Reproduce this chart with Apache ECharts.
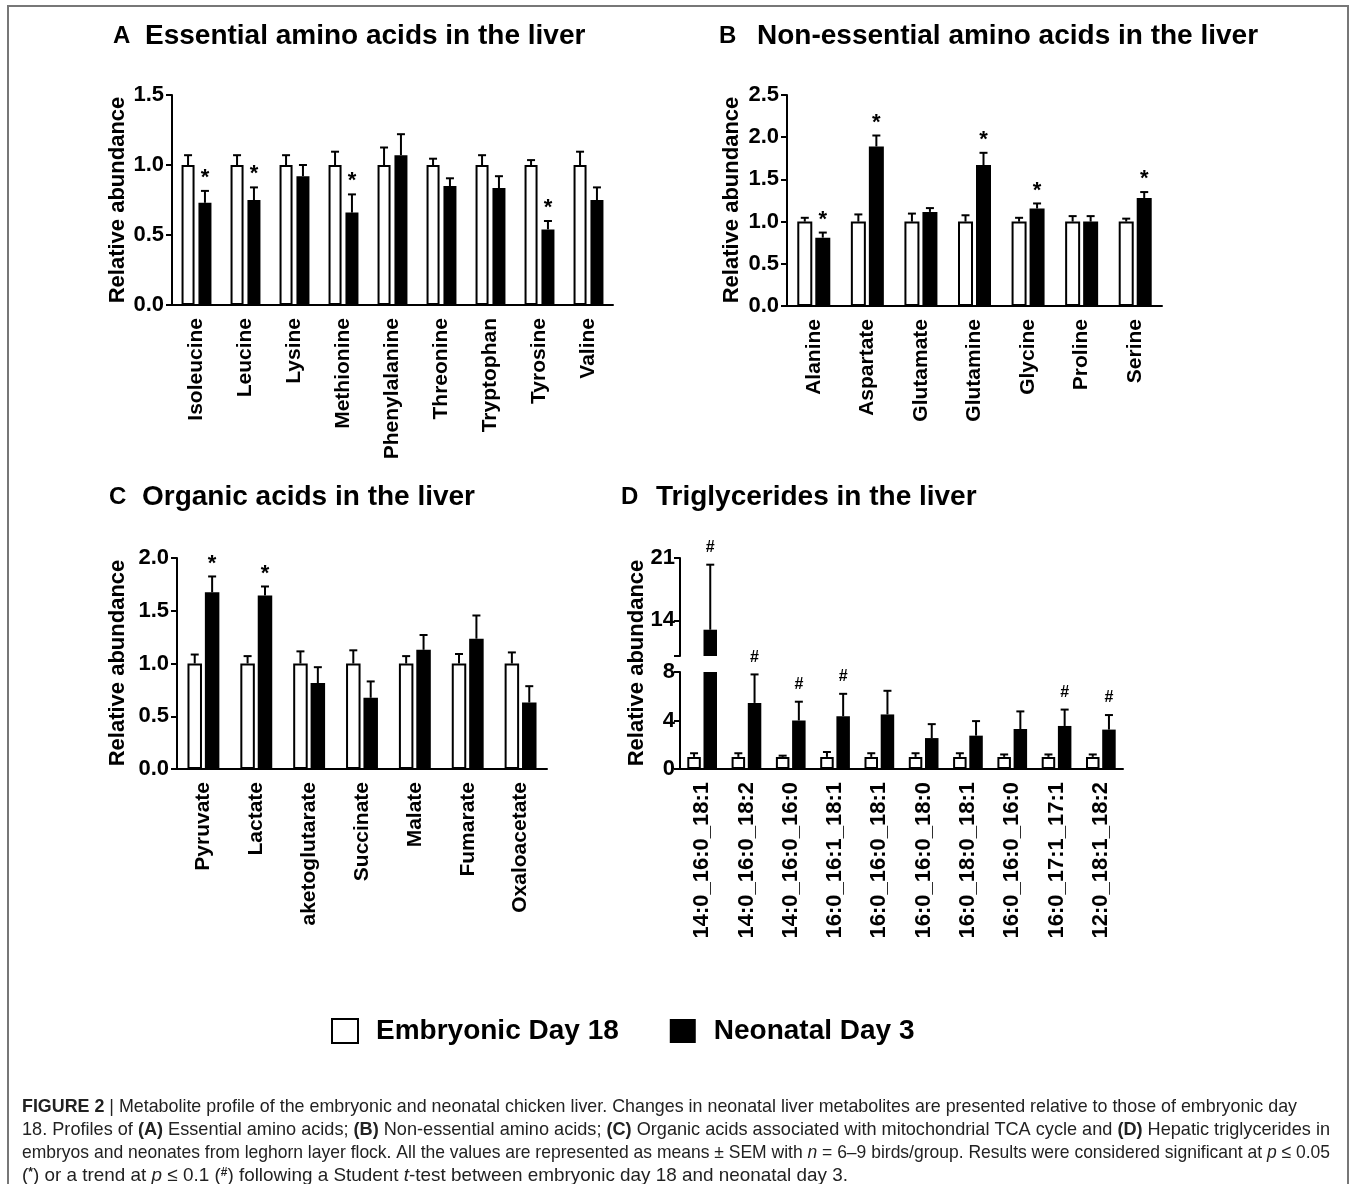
<!DOCTYPE html>
<html>
<head>
<meta charset="utf-8">
<script src="https://cdn.jsdelivr.net/npm/echarts@6/dist/echarts.min.js"></script>
<style>
  html, body { margin: 0; padding: 0; background: #fff; }
  #chart { width: 1354px; height: 1184px; }
</style>
</head>
<body>
<div id="chart"></div>
<script>
const FONT = 'Liberation Sans, Arial, Helvetica, sans-serif';

// A - essential amino acids
const catsA = ['Isoleucine', 'Leucine', 'Lysine', 'Methionine', 'Phenylalanine', 'Threonine', 'Tryptophan', 'Tyrosine', 'Valine'];
const embA = [1, 1, 1, 1, 1, 1, 1, 1, 1];
const embErrA = [0.07, 0.07, 0.07, 0.095, 0.125, 0.045, 0.07, 0.035, 0.095];
const neoA = [0.73, 0.75, 0.92, 0.66, 1.07, 0.85, 0.835, 0.54, 0.75];
const neoErrA = [0.085, 0.09, 0.08, 0.13, 0.15, 0.055, 0.085, 0.06, 0.09];
const sigA = ['*', '*', '', '*', '', '', '', '*', ''];

// B - non-essential amino acids
const catsB = ['Alanine', 'Aspartate', 'Glutamate', 'Glutamine', 'Glycine', 'Proline', 'Serine'];
const embB = [1, 1, 1, 1, 1, 1, 1];
const embErrB = [0.045, 0.085, 0.095, 0.075, 0.045, 0.065, 0.035];
const neoB = [0.81, 1.89, 1.115, 1.67, 1.155, 1.0, 1.28];
const neoErrB = [0.06, 0.13, 0.045, 0.145, 0.06, 0.065, 0.07];
const sigB = ['*', '*', '', '*', '*', '', '*'];

// C - organic acids
const catsC = ['Pyruvate', 'Lactate', 'aketoglutarate', 'Succinate', 'Malate', 'Fumarate', 'Oxaloacetate'];
const embC = [1, 1, 1, 1, 1, 1, 1];
const embErrC = [0.085, 0.07, 0.115, 0.125, 0.07, 0.09, 0.105];
const neoC = [1.675, 1.645, 0.815, 0.675, 1.13, 1.235, 0.63];
const neoErrC = [0.15, 0.085, 0.15, 0.155, 0.14, 0.22, 0.155];
const sigC = ['*', '*', '', '', '', '', ''];

// D - triglycerides (broken axis)
const catsD = ['14:0_16:0_18:1', '14:0_16:0_18:2', '14:0_16:0_16:0', '16:0_16:1_18:1', '16:0_16:0_18:1', '16:0_16:0_18:0', '16:0_18:0_18:1', '16:0_16:0_16:0', '16:0_17:1_17:1', '12:0_18:1_18:2'];
const embD = [1, 1, 1, 1, 1, 1, 1, 1, 1, 1];
const embErrD = [0.3, 0.3, 0.1, 0.4, 0.3, 0.3, 0.3, 0.2, 0.2, 0.2];
const neoD = [12.95, 5.45, 4.0, 4.35, 4.5, 2.55, 2.75, 3.3, 3.55, 3.25];
const neoErrD = [7.3, 2.35, 1.55, 1.85, 1.95, 1.15, 1.2, 1.45, 1.35, 1.2];
const sigD = ['#', '#', '#', '#', '', '', '', '', '#', '#'];

const breakLow = 8;   // top of lower D axis
const breakHigh = 10; // bottom of upper D axis

const chart = echarts.init(document.getElementById('chart'));

function yAx(idx, min, max, interval, dec, margin, extra) {
    return Object.assign({
        gridIndex: idx, type: 'value', min: min, max: max, interval: interval,
        axisLine: { show: true, lineStyle: { color: '#000', width: 2 } },
        axisTick: { show: true, length: 6, lineStyle: { color: '#000', width: 2 } },
        splitLine: { show: false },
        axisLabel: { color: '#000', fontSize: 22, fontWeight: 'bold', fontFamily: FONT, margin: margin,
            formatter: v => v.toFixed(dec) }
    }, extra || {});
}

function xAx(idx, cats, fs, show) {
    return {
        gridIndex: idx, type: 'category', data: cats, show: show !== false,
        axisLine: { lineStyle: { color: '#000', width: 2 } },
        axisTick: { show: false },
        axisLabel: { rotate: 90, color: '#000', fontSize: fs, fontWeight: 'bold', fontFamily: FONT, margin: 13, interval: 0 }
    };
}

// error bar (upwards only) with an optional mark above it
function errSeries(idx, vals, errs, offset, marks, markFont, markGap, keep) {
    return {
        type: 'custom', xAxisIndex: idx, yAxisIndex: idx, silent: true, z: 5,
        data: vals.map((v, i) => keep(v) ? [i, v, errs[i]] : [i, '-', 0]),
        renderItem: function (params, api) {
            const v = api.value(1);
            if (isNaN(v)) return;
            const i = api.value(0), e = api.value(2);
            const base = api.coord([i, v]);
            const top = api.coord([i, v + e]);
            const x = base[0] + offset;
            const kids = [
                { type: 'line', shape: { x1: x, y1: base[1], x2: x, y2: top[1] }, style: { stroke: '#000', lineWidth: 2 } },
                { type: 'line', shape: { x1: x - 4, y1: top[1], x2: x + 4, y2: top[1] }, style: { stroke: '#000', lineWidth: 2 } }
            ];
            const m = marks ? marks[params.dataIndex] : '';
            if (m) {
                kids.push({ type: 'text', style: { text: m, x: x, y: top[1] - markGap, align: 'center', verticalAlign: 'bottom',
                    font: markFont, fill: '#000' } });
            }
            return { type: 'group', children: kids };
        }
    };
}

function barPair(idx, emb, neo, bw, gapRatio) {
    return [
        { name: 'Embryonic Day 18', type: 'bar', xAxisIndex: idx, yAxisIndex: idx, data: emb, barWidth: bw, barGap: (gapRatio * 100) + '%',
          itemStyle: { color: '#fff', borderColor: '#000', borderWidth: 2 } },
        { name: 'Neonatal Day 3', type: 'bar', xAxisIndex: idx, yAxisIndex: idx, data: neo, barWidth: bw, barGap: (gapRatio * 100) + '%',
          itemStyle: { color: '#000' } }
    ];
}

function panel(idx, emb, embErr, neo, neoErr, sig, bw, gapRatio, markFont, markGap) {
    const off = (bw + bw * gapRatio) / 2;
    return barPair(idx, emb, neo, bw, gapRatio).concat([
        errSeries(idx, emb, embErr, -off, null, '', 0, () => true),
        errSeries(idx, neo, neoErr, off, sig, markFont, markGap, () => true)
    ]);
}

const starFont = 'bold 22px ' + FONT;
const hashFont = 'bold 16px ' + FONT;

const bwD = 13.5, gapD = 0.2, offD = (bwD + bwD * gapD) / 2;
const overBreak = v => v > breakHigh;

const series = []
    .concat(panel(0, embA, embErrA, neoA, neoErrA, sigA, 13, 0.3, starFont, 2))
    .concat(panel(1, embB, embErrB, neoB, neoErrB, sigB, 15, 0.2, starFont, 2))
    .concat(panel(2, embC, embErrC, neoC, neoErrC, sigC, 14.5, 0.2, starFont, 2))
    // D upper part of the broken axis (only values above the break)
    .concat(barPair(3, embD.map(v => overBreak(v) ? v : '-'), neoD.map(v => overBreak(v) ? v : '-'), bwD, gapD))
    .concat([errSeries(3, neoD, neoErrD, offD, sigD, hashFont, 9, overBreak)])
    // D lower part
    .concat(barPair(4, embD, neoD, bwD, gapD))
    .concat([
        errSeries(4, embD, embErrD, -offD, null, '', 0, () => true),
        errSeries(4, neoD, neoErrD, offD, sigD, hashFont, 9, v => v <= breakLow)
    ]);

function title(letter, lx, text, tx, y) {
    return [
        { type: 'text', x: lx, y: y, style: { text: letter, font: 'bold 24px ' + FONT, fill: '#000', verticalAlign: 'middle' } },
        { type: 'text', x: tx, y: y, style: { text: text, font: 'bold 28px ' + FONT, fill: '#000', verticalAlign: 'middle' } }
    ];
}

function yName(x, y) {
    return { type: 'text', x: x, y: y, rotation: Math.PI / 2,
        style: { text: 'Relative abundance', font: 'bold 22px ' + FONT, fill: '#000', align: 'center', verticalAlign: 'middle' } };
}

// caption
const capSize = 19;
const capFonts = {
    '': capSize + 'px ' + FONT,
    b: 'bold ' + capSize + 'px ' + FONT,
    i: 'italic ' + capSize + 'px ' + FONT,
    s: 'bold 12px ' + FONT
};
const capRich = {
    b: { fontWeight: 'bold', fontSize: capSize, fontFamily: FONT, fill: '#222' },
    i: { fontStyle: 'italic', fontSize: capSize, fontFamily: FONT, fill: '#222' },
    s: { fontWeight: 'bold', fontSize: 12, fontFamily: FONT, fill: '#222', verticalAlign: 'top', padding: [0, 0, 7, 0] }
};
const captionLines = [
    '{b|FIGURE 2} | Metabolite profile of the embryonic and neonatal chicken liver. Changes in neonatal liver metabolites are presented relative to those of embryonic day',
    '18. Profiles of {b|(A)} Essential amino acids; {b|(B)} Non-essential amino acids; {b|(C)} Organic acids associated with mitochondrial TCA cycle and {b|(D)} Hepatic triglycerides in',
    'embryos and neonates from leghorn layer flock. All the values are represented as means ± SEM with {i|n} = 6–9 birds/group. Results were considered significant at {i|p} ≤ 0.05',
    '({s|*}) or a trend at {i|p} ≤ 0.1 ({s|#}) following a Student {i|t}-test between embryonic day 18 and neonatal day 3.'
];
const captionY = [1107, 1130, 1153, 1176];
const captionW = [1275, 1308, 1308, 826];

const ctx = document.createElement('canvas').getContext('2d');
function richWidth(line) {
    let w = 0, last = 0, m;
    const re = /\{(\w+)\|([^}]*)\}/g;
    while ((m = re.exec(line)) !== null) {
        ctx.font = capFonts['']; w += ctx.measureText(line.slice(last, m.index)).width;
        ctx.font = capFonts[m[1]]; w += ctx.measureText(m[2]).width;
        last = re.lastIndex;
    }
    ctx.font = capFonts['']; w += ctx.measureText(line.slice(last)).width;
    return w;
}

const graphics = []
    .concat([{ type: 'rect', shape: { x: 8, y: 6, width: 1340, height: 1200 }, style: { fill: 'none', stroke: '#777', lineWidth: 2 } }])
    .concat(title('A', 113, 'Essential amino acids in the liver', 145, 36))
    .concat(title('B', 719, 'Non-essential amino acids in the liver', 757, 36))
    .concat(title('C', 109, 'Organic acids in the liver', 142, 497))
    .concat(title('D', 621, 'Triglycerides in the liver', 656, 497))
    .concat([yName(118, 200), yName(732, 200), yName(118, 663), yName(637, 663)])
    .concat(captionLines.map((t, k) => ({
        type: 'text', x: 22, y: captionY[k], scaleX: captionW[k] / richWidth(t), originX: 0, originY: 0,
        style: { text: t, rich: capRich, font: capFonts[''], fill: '#222', verticalAlign: 'middle' }
    })));

const option = {
    backgroundColor: '#fff',
    animation: false,
    grid: [
        { left: 172, top: 95, width: 441, height: 210 },
        { left: 787, top: 95, width: 375, height: 211 },
        { left: 177, top: 558, width: 370, height: 211 },
        { left: 680, top: 558, width: 443, height: 98 },
        { left: 680, top: 672, width: 443, height: 97 }
    ],
    xAxis: [
        xAx(0, catsA, 21),
        xAx(1, catsB, 21),
        xAx(2, catsC, 21),
        xAx(3, catsD, 22, false),
        xAx(4, catsD, 22)
    ],
    yAxis: [
        yAx(0, 0, 1.5, 0.5, 1, 8),
        yAx(1, 0, 2.5, 0.5, 1, 8),
        yAx(2, 0, 2.0, 0.5, 1, 8),
        yAx(3, breakHigh, 21, 1, 0, 5, {
            axisLabel: { color: '#000', fontSize: 22, fontWeight: 'bold', fontFamily: FONT, margin: 5, customValues: [14, 21] },
            axisTick: { show: true, length: 6, lineStyle: { color: '#000', width: 2 }, customValues: [breakHigh, 14, 21] }
        }),
        yAx(4, 0, breakLow, 4, 0, 5)
    ],
    legend: {
        left: 326, top: 1012, itemWidth: 26, itemHeight: 24, itemGap: 51, icon: 'rect',
        data: ['Embryonic Day 18', 'Neonatal Day 3'],
        textStyle: { color: '#000', fontSize: 28, fontWeight: 'bold', fontFamily: FONT, padding: [0, 0, 0, 13] },
        selectedMode: false
    },
    graphic: graphics,
    series: series
};

chart.setOption(option);
</script>
</body>
</html>
